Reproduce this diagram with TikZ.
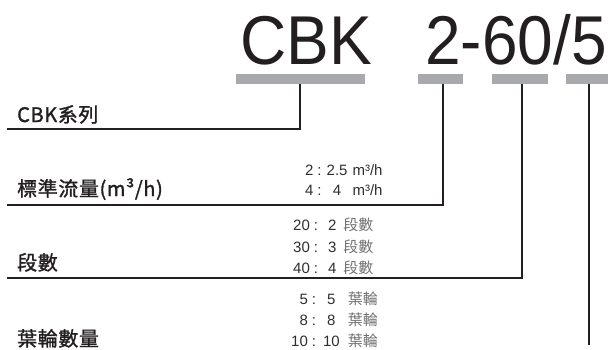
\documentclass[tikz,border=0pt]{standalone}
\usepackage{fontspec}
\setmainfont{Liberation Sans}
\newfontfamily\cjk{Noto Sans CJK TC}
\newfontfamily\cjklbl{Noto Sans CJK TC}[FakeBold=1.4, LetterSpace=3]
\definecolor{barg}{HTML}{A7A9AC}
\definecolor{ink}{HTML}{231F20}
\definecolor{numc}{HTML}{2E2E2E}
\definecolor{cjkc}{HTML}{707070}
\newcommand{\zh}[1]{{\cjk\color{cjkc}#1}}
% row: num, numbox width, gap1, gap2, value, valbox width, gap3, unit
\newcommand{\vrow}[8]{\makebox[#2][r]{#1}\hspace{#3}:\hspace{#4}\makebox[#6][c]{#5}\hspace{#7}#8}
\tikzset{
  bar/.style={fill=barg, draw=none, minimum height=10pt, inner sep=0pt},
  conn/.style={draw=ink, line width=2pt},
  bigtxt/.style={anchor=base west, inner sep=0pt, font=\fontsize{64}{64}\selectfont, text=ink},
  lbl/.style={anchor=base west, inner sep=0pt, font=\cjklbl\fontsize{20}{20}\selectfont, text=ink},
  val/.style={anchor=base west, inner sep=0pt, font=\fontsize{15}{15}\selectfont, text=numc}
}
\begin{document}
\begin{tikzpicture}[x=1pt,y=-1pt]
\useasboundingbox (0,0) rectangle (608,349);
% big code
\node[bigtxt] (code1) at (240,64) {\scalebox{1}[1.08]{CBK}};
\node[bigtxt] (code2) at (425,64) {\scalebox{1}[1.08]{2-60/5}};
% bars
\node[bar, minimum width=129pt] (b1) at (300.5,79) {};
\node[bar, minimum width=45pt] (b2) at (440.5,79) {};
\node[bar, minimum width=56pt] (b3) at (520,79) {};
\node[bar, minimum width=42pt] (b4) at (587,79) {};
% corners and ends
\coordinate (k1) at (300,129);
\coordinate (l1) at (7,129);
\coordinate (k2) at (443,205);
\coordinate (l2) at (7,205);
\coordinate (k3) at (522,278);
\coordinate (l3) at (7,278);
\coordinate (k4) at (589,345);
% connectors
\draw[conn] (b1.south -| k1) -- (k1) -- (l1);
\draw[conn] (b2.south -| k2) -- (k2) -- (l2);
\draw[conn] (b3.south -| k3) -- (k3) -- (l3);
\draw[conn] (b4.south -| k4) -- (k4);
% labels
\node[lbl] (t1) at (17,122) {CBK系列};
\node[lbl] (t2) at (17,196) {標準流量(m³/h)};
\node[lbl] (t3) at (17,270) {段數};
\node[lbl] (t4) at (17,346) {葉輪數量};
% values
\node[val] (v21) at (305,175) {\vrow{2}{8.3pt}{4pt}{5pt}{2.5}{20.9pt}{5pt}{m³/h}};
\node[val] (v22) at (305,195) {\vrow{4}{8.3pt}{4pt}{5pt}{4}{20.9pt}{5pt}{m³/h}};
\node[val] (v31) at (293,230) {\vrow{20}{16.7pt}{4pt}{10pt}{2}{8.3pt}{7pt}{\zh{段數}}};
\node[val] (v32) at (293,252) {\vrow{30}{16.7pt}{4pt}{10pt}{3}{8.3pt}{7pt}{\zh{段數}}};
\node[val] (v33) at (293,273) {\vrow{40}{16.7pt}{4pt}{10pt}{4}{8.3pt}{7pt}{\zh{段數}}};
\node[val] (v41) at (291,304) {\vrow{5}{16.7pt}{4pt}{7pt}{5}{16.7pt}{8pt}{\zh{葉輪}}};
\node[val] (v42) at (291,325) {\vrow{8}{16.7pt}{4pt}{7pt}{8}{16.7pt}{8pt}{\zh{葉輪}}};
\node[val] (v43) at (291,346) {\vrow{10}{16.7pt}{4pt}{7pt}{10}{16.7pt}{8pt}{\zh{葉輪}}};
\end{tikzpicture}
\end{document}
